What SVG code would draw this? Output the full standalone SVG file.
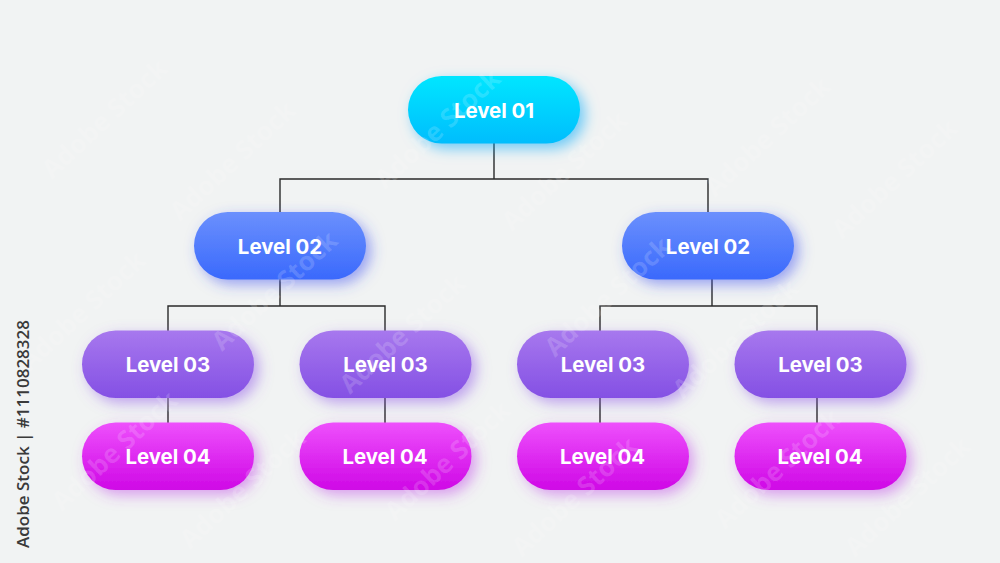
<svg xmlns="http://www.w3.org/2000/svg" width="1000" height="563" viewBox="0 0 1000 563">
<style>
.pill{stroke:none}
.lb{font-family:Inter,"Noto Sans","Liberation Sans",sans-serif;font-weight:700;font-size:20.400px;fill:#fff;text-anchor:middle}
.cn{fill:none;stroke:#2a2a2a;stroke-width:1.4}
.wm{font-family:"Open Sans","Liberation Sans",sans-serif;font-weight:700;font-size:26px;fill:#fff;fill-opacity:.16}
.id{font-family:"Open Sans","Liberation Sans",sans-serif;font-weight:600;font-size:17px;fill:#3a3a3a}
</style>
<defs>
<linearGradient id="g1" x1="0" y1="0" x2="0" y2="1"><stop offset="0" stop-color="#00e6ff"/><stop offset="1" stop-color="#00bdfd"/></linearGradient>
<linearGradient id="g2" x1="0" y1="0" x2="0" y2="1"><stop offset="0" stop-color="#6b90fd"/><stop offset="1" stop-color="#3a69fc"/></linearGradient>
<linearGradient id="g3" x1="0" y1="0" x2="0" y2="1"><stop offset="0" stop-color="#a778ee"/><stop offset="1" stop-color="#8450e4"/></linearGradient>
<linearGradient id="g4" x1="0" y1="0" x2="0" y2="1"><stop offset="0" stop-color="#ee50fc"/><stop offset="1" stop-color="#cf08e6"/></linearGradient>
<filter id="s1" x="-30%" y="-50%" width="160%" height="200%"><feDropShadow dx="5" dy="5" stdDeviation="7" flood-color="#00a8fa" flood-opacity=".55"/></filter>
<filter id="s2" x="-30%" y="-50%" width="160%" height="200%"><feDropShadow dx="5" dy="5" stdDeviation="7" flood-color="#3a50f0" flood-opacity=".5"/></filter>
<filter id="s3" x="-30%" y="-50%" width="160%" height="200%"><feDropShadow dx="5" dy="5" stdDeviation="7" flood-color="#8a50e8" flood-opacity=".5"/></filter>
<filter id="s4" x="-30%" y="-50%" width="160%" height="200%"><feDropShadow dx="5" dy="5" stdDeviation="7" flood-color="#c040e8" flood-opacity=".5"/></filter>
</defs>
<rect width="1000" height="563" fill="#f1f3f3"/>
<g id="connectors">
<path class="cn" d="M494 143V179M280 212V179H708V212"/>
<path class="cn" d="M280 279V306M168 331V306H385V331"/>
<path class="cn" d="M712 279V306M600 331V306H817V331"/>
<path class="cn" d="M168 398V423M385 398V423M600 398V423M817 398V423"/>
</g>
<g id="l1"><rect class="pill" x="408" y="76" width="172" height="67.500" rx="33.700" fill="url(#g1)" filter="url(#s1)"/><text class="lb" x="494" y="118">Level 01</text></g>
<g id="l2a"><rect class="pill" x="194" y="212" width="172" height="67.500" rx="33.700" fill="url(#g2)" filter="url(#s2)"/><text class="lb" x="280" y="254">Level 02</text></g>
<g id="l2b"><rect class="pill" x="622" y="212" width="172" height="67.500" rx="33.700" fill="url(#g2)" filter="url(#s2)"/><text class="lb" x="708" y="254">Level 02</text></g>
<g id="l3a"><rect class="pill" x="82" y="330.500" width="172" height="67.500" rx="33.700" fill="url(#g3)" filter="url(#s3)"/><text class="lb" x="168" y="372">Level 03</text></g>
<g id="l3b"><rect class="pill" x="299.500" y="330.500" width="172" height="67.500" rx="33.700" fill="url(#g3)" filter="url(#s3)"/><text class="lb" x="385.500" y="372">Level 03</text></g>
<g id="l3c"><rect class="pill" x="517" y="330.500" width="172" height="67.500" rx="33.700" fill="url(#g3)" filter="url(#s3)"/><text class="lb" x="603" y="372">Level 03</text></g>
<g id="l3d"><rect class="pill" x="734.500" y="330.500" width="172" height="67.500" rx="33.700" fill="url(#g3)" filter="url(#s3)"/><text class="lb" x="820.500" y="372">Level 03</text></g>
<g id="l4a"><rect class="pill" x="82" y="422.500" width="172" height="67.500" rx="33.700" fill="url(#g4)" filter="url(#s4)"/><text class="lb" x="168" y="464">Level 04</text></g>
<g id="l4b"><rect class="pill" x="299.500" y="422.500" width="172" height="67.500" rx="33.700" fill="url(#g4)" filter="url(#s4)"/><text class="lb" x="385" y="464">Level 04</text></g>
<g id="l4c"><rect class="pill" x="517" y="422.500" width="172" height="67.500" rx="33.700" fill="url(#g4)" filter="url(#s4)"/><text class="lb" x="602.500" y="464">Level 04</text></g>
<g id="l4d"><rect class="pill" x="734.500" y="422.500" width="172" height="67.500" rx="33.700" fill="url(#g4)" filter="url(#s4)"/><text class="lb" x="820" y="464">Level 04</text></g>
<g id="stock-marks">
<text class="wm" transform="translate(52 180) rotate(-43)">Adobe Stock</text>
<text class="wm" transform="translate(180 222) rotate(-43)">Adobe Stock</text>
<text class="wm" transform="translate(385 190) rotate(-43)">Adobe Stock</text>
<text class="wm" transform="translate(512 232) rotate(-43)">Adobe Stock</text>
<text class="wm" transform="translate(715 198) rotate(-43)">Adobe Stock</text>
<text class="wm" transform="translate(842 240) rotate(-43)">Adobe Stock</text>
<text class="wm" transform="translate(30 372) rotate(-43)">Adobe Stock</text>
<text class="wm" transform="translate(222 352) rotate(-43)">Adobe Stock</text>
<text class="wm" transform="translate(350 395) rotate(-43)">Adobe Stock</text>
<text class="wm" transform="translate(555 358) rotate(-43)">Adobe Stock</text>
<text class="wm" transform="translate(683 400) rotate(-43)">Adobe Stock</text>
<text class="wm" transform="translate(62 512) rotate(-43)">Adobe Stock</text>
<text class="wm" transform="translate(190 550) rotate(-43)">Adobe Stock</text>
<text class="wm" transform="translate(395 522) rotate(-43)">Adobe Stock</text>
<text class="wm" transform="translate(522 558) rotate(-43)">Adobe Stock</text>
<text class="wm" transform="translate(725 530) rotate(-43)">Adobe Stock</text>
<text class="wm" transform="translate(855 558) rotate(-43)">Adobe Stock</text>
</g>
<text class="id" transform="translate(29 548) rotate(-90)">Adobe Stock | #1110828328</text>
</svg>
